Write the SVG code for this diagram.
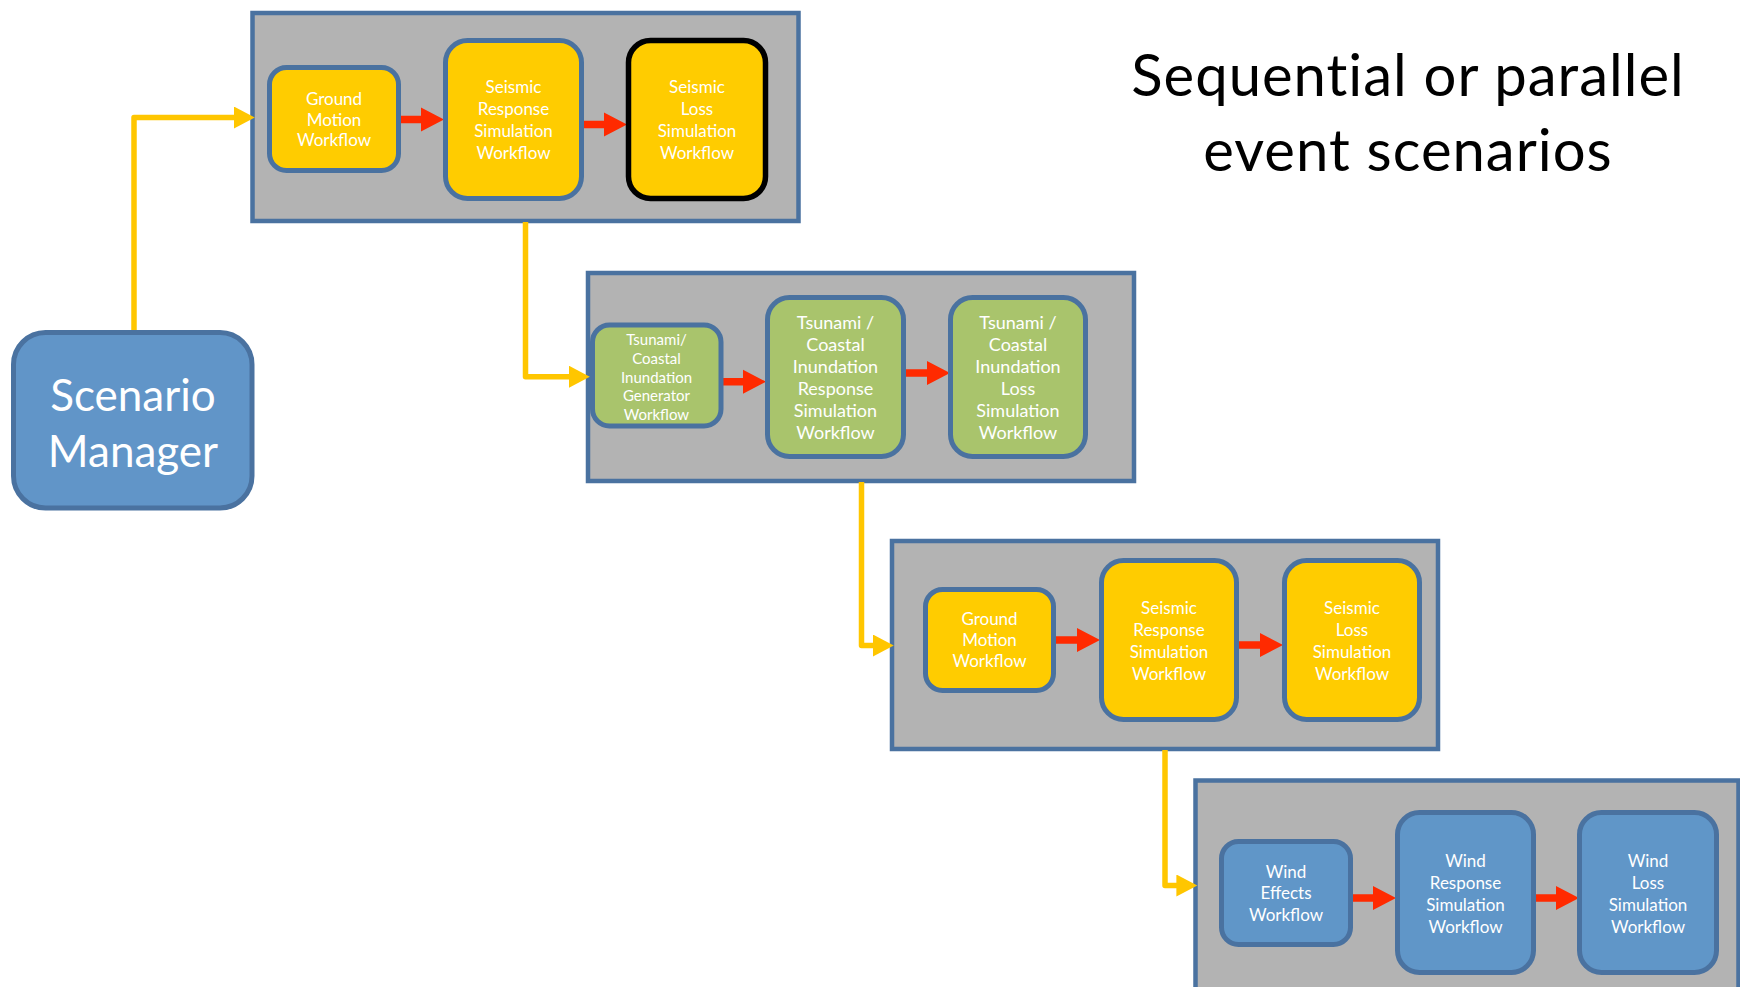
<svg xmlns="http://www.w3.org/2000/svg" width="1740" height="987" viewBox="0 0 1740 987">
  <style>
    .stage { fill: #b3b3b3; stroke: #4a72a0; stroke-width: 4.5; }
    .box { stroke: #4a72a0; stroke-width: 5; }
    .quake { fill: #ffcc00; }
    .wave { fill: #a9c46c; }
    .wind { fill: #6096c8; }
    .lbl { font-family: Lato, "Liberation Sans", sans-serif; fill: #ffffff; text-anchor: middle; }
    .s15 { font-size: 15px; }
    .s17 { font-size: 17px; }
    .s18 { font-size: 18px; }
    .flow { fill: #ff2a00; }
    .link { fill: none; stroke: #ffc600; stroke-width: 5.5; stroke-linejoin: round; }
    .title { font-family: Lato, "Liberation Sans", sans-serif; font-size: 58px; letter-spacing: 1px; fill: #000000; text-anchor: middle; }
  </style>
  <defs>
    <marker id="head" markerUnits="userSpaceOnUse" markerWidth="22" markerHeight="22" refX="1" refY="10" orient="auto" viewBox="0 0 20 20">
      <path d="M0,0 L19,10 L0,20 Z" fill="#ffc600"/>
    </marker>
    <!-- block arrow between workflow steps, drawn from x=0 along y=0 -->
    <path id="step" d="M0,-3.7 H22 V-12 L45,0 L22,12 V3.7 H0 Z"/>
  </defs>

  <rect width="1740" height="987" fill="#ffffff"/>

  <!-- stage panels -->
  <rect id="stage-1" class="stage" x="252.5" y="13" width="546" height="208"/>
  <rect id="stage-2" class="stage" x="588" y="273" width="546" height="208"/>
  <rect id="stage-3" class="stage" x="892" y="541" width="546" height="208"/>
  <rect id="stage-4" class="stage" x="1195.5" y="780.5" width="543" height="210"/>

  <!-- connectors -->
  <g id="connectors">
    <path class="link" d="M134,331 V117.5 H235" marker-end="url(#head)"/>
    <path class="link" d="M525.5,222 V376.7 H570" marker-end="url(#head)"/>
    <path class="link" d="M861.5,482 V645.5 H874" marker-end="url(#head)"/>
    <path class="link" d="M1165,750 V885.5 H1177.5" marker-end="url(#head)"/>
    <g class="flow">
      <use href="#step" transform="translate(399,119.5)"/>
      <use href="#step" transform="translate(582,124.5)"/>
      <use href="#step" transform="translate(721,381.7)"/>
      <use href="#step" transform="translate(905,373)"/>
      <use href="#step" transform="translate(1055,640)"/>
      <use href="#step" transform="translate(1238,645)"/>
      <use href="#step" transform="translate(1351,898)"/>
      <use href="#step" transform="translate(1534,898)"/>
    </g>
  </g>

  <!-- scenario manager -->
  <g id="scenario-manager">
    <rect class="box" x="13.5" y="332.5" width="238.5" height="175.5" rx="32" fill="#6195c8"/>
    <text class="lbl" style="font-size:44px" x="133" y="411">Scenario</text>
    <text class="lbl" style="font-size:44px" x="133" y="467">Manager</text>
  </g>

  <!-- stage 1: seismic -->
  <g id="ground-motion-1">
    <rect class="box quake" x="269.5" y="67.5" width="129" height="103" rx="17"/>
    <text class="lbl s17" x="334" y="105">Ground</text>
    <text class="lbl s17" x="334" y="126">Motion</text>
    <text class="lbl s17" x="334" y="146">Workflow</text>
  </g>
  <g id="seismic-response-1">
    <rect class="box quake" x="445.5" y="40.5" width="136" height="158" rx="22"/>
    <text class="lbl s17" x="513.5" y="93">Seismic</text>
    <text class="lbl s17" x="513.5" y="115">Response</text>
    <text class="lbl s17" x="513.5" y="137">Simulation</text>
    <text class="lbl s17" x="513.5" y="159">Workflow</text>
  </g>
  <g id="seismic-loss-1">
    <rect class="quake" x="628.5" y="40.5" width="137" height="158" rx="22" stroke="#000000" stroke-width="5.5"/>
    <text class="lbl s17" x="697" y="93">Seismic</text>
    <text class="lbl s17" x="697" y="115">Loss</text>
    <text class="lbl s17" x="697" y="137">Simulation</text>
    <text class="lbl s17" x="697" y="159">Workflow</text>
  </g>

  <!-- stage 2: tsunami -->
  <g id="tsunami-generator">
    <rect class="box wave" x="592.5" y="325" width="128.5" height="101" rx="17"/>
    <text class="lbl s15" x="656.5" y="345">Tsunami/</text>
    <text class="lbl s15" x="656.5" y="364">Coastal</text>
    <text class="lbl s15" x="656.5" y="382.5">Inundation</text>
    <text class="lbl s15" x="656.5" y="401">Generator</text>
    <text class="lbl s15" x="656.5" y="419.5">Workflow</text>
  </g>
  <g id="tsunami-response">
    <rect class="box wave" x="767.5" y="297.5" width="136" height="159" rx="22"/>
    <text class="lbl s18" x="835.5" y="329">Tsunami /</text>
    <text class="lbl s18" x="835.5" y="351">Coastal</text>
    <text class="lbl s18" x="835.5" y="373">Inundation</text>
    <text class="lbl s18" x="835.5" y="395">Response</text>
    <text class="lbl s18" x="835.5" y="417">Simulation</text>
    <text class="lbl s18" x="835.5" y="439">Workflow</text>
  </g>
  <g id="tsunami-loss">
    <rect class="box wave" x="950.5" y="297.5" width="135" height="159" rx="22"/>
    <text class="lbl s18" x="1018" y="329">Tsunami /</text>
    <text class="lbl s18" x="1018" y="351">Coastal</text>
    <text class="lbl s18" x="1018" y="373">Inundation</text>
    <text class="lbl s18" x="1018" y="395">Loss</text>
    <text class="lbl s18" x="1018" y="417">Simulation</text>
    <text class="lbl s18" x="1018" y="439">Workflow</text>
  </g>

  <!-- stage 3: seismic -->
  <g id="ground-motion-2">
    <rect class="box quake" x="925.5" y="589.5" width="128" height="101" rx="17"/>
    <text class="lbl s17" x="989.5" y="625">Ground</text>
    <text class="lbl s17" x="989.5" y="646">Motion</text>
    <text class="lbl s17" x="989.5" y="667">Workflow</text>
  </g>
  <g id="seismic-response-2">
    <rect class="box quake" x="1101.5" y="560.5" width="135" height="159" rx="22"/>
    <text class="lbl s17" x="1169" y="614">Seismic</text>
    <text class="lbl s17" x="1169" y="636">Response</text>
    <text class="lbl s17" x="1169" y="658">Simulation</text>
    <text class="lbl s17" x="1169" y="680">Workflow</text>
  </g>
  <g id="seismic-loss-2">
    <rect class="box quake" x="1284.5" y="560.5" width="135" height="159" rx="22"/>
    <text class="lbl s17" x="1352" y="614">Seismic</text>
    <text class="lbl s17" x="1352" y="636">Loss</text>
    <text class="lbl s17" x="1352" y="658">Simulation</text>
    <text class="lbl s17" x="1352" y="680">Workflow</text>
  </g>

  <!-- stage 4: wind -->
  <g id="wind-effects">
    <rect class="box wind" x="1221.5" y="841.5" width="129" height="103" rx="17"/>
    <text class="lbl s17" x="1286" y="878">Wind</text>
    <text class="lbl s17" x="1286" y="899">Effects</text>
    <text class="lbl s17" x="1286" y="921">Workflow</text>
  </g>
  <g id="wind-response">
    <rect class="box wind" x="1397.5" y="812.5" width="136" height="160" rx="22"/>
    <text class="lbl s17" x="1465.5" y="867">Wind</text>
    <text class="lbl s17" x="1465.5" y="889">Response</text>
    <text class="lbl s17" x="1465.5" y="911">Simulation</text>
    <text class="lbl s17" x="1465.5" y="933">Workflow</text>
  </g>
  <g id="wind-loss">
    <rect class="box wind" x="1579.5" y="812.5" width="137" height="160" rx="22"/>
    <text class="lbl s17" x="1648" y="867">Wind</text>
    <text class="lbl s17" x="1648" y="889">Loss</text>
    <text class="lbl s17" x="1648" y="911">Simulation</text>
    <text class="lbl s17" x="1648" y="933">Workflow</text>
  </g>

  <!-- heading -->
  <g id="heading">
    <text class="title" x="1408" y="96">Sequential or parallel</text>
    <text class="title" x="1408" y="171">event scenarios</text>
  </g>
</svg>
